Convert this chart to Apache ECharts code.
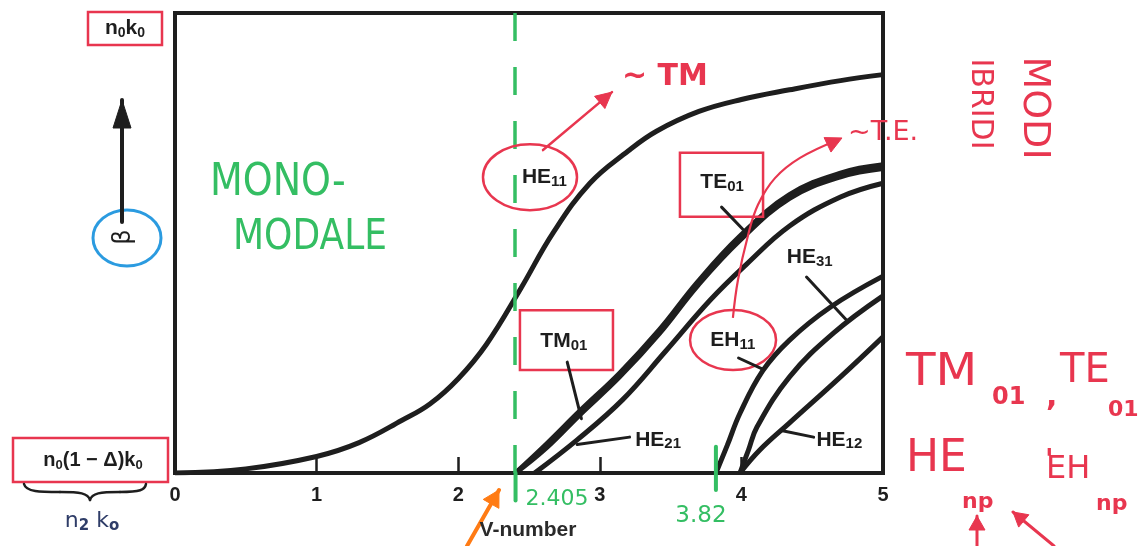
<!DOCTYPE html>
<html>
<head>
<meta charset="utf-8">
<script src="https://cdn.jsdelivr.net/npm/echarts@6/dist/echarts.min.js"></script>
<style>
  html, body { margin: 0; padding: 0; background: #ffffff; }
  #chart { width: 1144px; height: 546px; }
</style>
</head>
<body>
<div id="chart"></div>
<script>
// V-number axis ticks
const V_TICKS = [0, 1, 2, 3, 4, 5];

// Normalised propagation constant b (0 = n2k0, 1 = n1k0) versus V for each guided mode
const V_HE11 = [0, 0.5, 1.0, 1.3, 1.6, 1.8, 2.0, 2.2, 2.44, 2.67, 2.93, 3.2, 3.4, 3.7, 4.0, 4.34, 4.7, 5.0];
const B_HE11 = [0, 0.009, 0.036, 0.066, 0.114, 0.15, 0.205, 0.28, 0.40, 0.522, 0.63, 0.70, 0.743, 0.786, 0.812, 0.833, 0.853, 0.866];

const V_TE01 = [2.405, 2.62, 2.86, 3.14, 3.42, 3.69, 3.99, 4.34, 4.70, 5.0];
const B_TE01 = [0, 0.062, 0.135, 0.217, 0.311, 0.415, 0.515, 0.605, 0.652, 0.670];

const V_TM01 = [2.405, 2.62, 2.86, 3.14, 3.42, 3.69, 3.99, 4.34, 4.70, 5.0];
const B_TM01 = [0, 0.054, 0.127, 0.209, 0.303, 0.407, 0.506, 0.597, 0.644, 0.662];

const V_HE21 = [2.54, 2.84, 3.16, 3.46, 3.78, 4.03, 4.34, 4.70, 5.0];
const B_HE21 = [0, 0.072, 0.159, 0.263, 0.376, 0.452, 0.537, 0.600, 0.630];

const V_EH11 = [3.82, 3.9, 3.99, 4.15, 4.34, 4.63, 5.0];
const B_EH11 = [0, 0.06, 0.13, 0.222, 0.289, 0.361, 0.428];

const V_HE31 = [3.99, 4.05, 4.11, 4.34, 4.65, 5.0];
const B_HE31 = [0, 0.05, 0.10, 0.209, 0.304, 0.385];

const V_HE12 = [3.99, 4.13, 4.34, 4.70, 5.0];
const B_HE12 = [0, 0.05, 0.109, 0.209, 0.296];

// cut-off values written on the axis
const V_CUTOFF_1 = 2.405;
const V_CUTOFF_2 = 3.82;

const MODES = [
  { name: 'HE11', v: V_HE11, b: B_HE11 },
  { name: 'TE01', v: V_TE01, b: B_TE01 },
  { name: 'TM01', v: V_TM01, b: B_TM01 },
  { name: 'HE21', v: V_HE21, b: B_HE21 },
  { name: 'EH11', v: V_EH11, b: B_EH11 },
  { name: 'HE31', v: V_HE31, b: B_HE31 },
  { name: 'HE12', v: V_HE12, b: B_HE12 }
];

const INK = '#1e1e1e';
const RED = '#e8364f';
const GREEN = '#34be63';
const BLUE = '#2b9be0';
const ORANGE = '#ff7b14';
const NAVY = '#2f3d68';
const PRINT = 'Liberation Sans, Arial, sans-serif';
const HAND = 'DejaVu Sans, sans-serif';

const chart = echarts.init(document.getElementById('chart'), null, { renderer: 'canvas' });

const series = MODES.map((m, idx) => {
  const s = {
    type: 'line',
    name: m.name,
    data: m.v.map((v, i) => [v, m.b[i]]),
    smooth: 0.4,
    symbol: 'none',
    silent: true,
    animation: false,
    z: 3,
    lineStyle: { color: INK, width: 5 }
  };
  if (idx === 0) {
    s.markLine = {
      silent: true,
      animation: false,
      symbol: ['none', 'none'],
      label: { show: false },
      lineStyle: { color: GREEN, width: 3.5, type: [28, 26] },
      data: [{ xAxis: V_CUTOFF_1 }],
      z: 5
    };
  }
  return s;
});

chart.setOption({
  animation: false,
  backgroundColor: '#ffffff',
  grid: {
    left: 175, right: 261, top: 13, bottom: 73,
    show: true, borderColor: INK, borderWidth: 4,
    backgroundColor: 'transparent', containLabel: false
  },
  xAxis: {
    type: 'value', min: V_TICKS[0], max: V_TICKS[V_TICKS.length - 1], interval: 1,
    axisLine: { show: true, onZero: false, lineStyle: { color: INK, width: 4 } },
    axisTick: { show: true, inside: true, length: 16, lineStyle: { color: INK, width: 2.5 } },
    axisLabel: { color: INK, fontSize: 20, fontWeight: 'bold', fontFamily: PRINT, margin: 12 },
    splitLine: { show: false }
  },
  yAxis: {
    type: 'value', min: 0, max: 1,
    axisLine: { show: true, lineStyle: { color: INK, width: 4 } },
    axisTick: { show: false },
    axisLabel: { show: false },
    splitLine: { show: false }
  },
  series: series
});

function D(v, b) { return chart.convertToPixel({ gridIndex: 0 }, [v, b]); }

function arrowHead(x1, y1, x2, y2, len, half, color) {
  const a = Math.atan2(y2 - y1, x2 - x1);
  const c = Math.cos(a), s = Math.sin(a);
  return {
    type: 'polygon', silent: true, z: 20,
    shape: { points: [[x2, y2], [x2 - len * c + half * s, y2 - len * s - half * c], [x2 - len * c - half * s, y2 - len * s + half * c]] },
    style: { fill: color, stroke: color, lineWidth: 1 }
  };
}
function arrow(x1, y1, x2, y2, color, w, len, half) {
  return [
    { type: 'line', silent: true, z: 20, shape: { x1: x1, y1: y1, x2: x2, y2: y2 }, style: { stroke: color, lineWidth: w, lineCap: 'round' } },
    arrowHead(x1, y1, x2, y2, len, half, color)
  ];
}
function seg(p, q, color, w) {
  return { type: 'line', silent: true, z: 20, shape: { x1: p[0], y1: p[1], x2: q[0], y2: q[1] }, style: { stroke: color, lineWidth: w, lineCap: 'round' } };
}
function txt(x, y, text, size, color, opts) {
  const o = opts || {};
  return {
    type: 'text', silent: true, z: 25, x: x, y: y,
    rotation: o.rotation || 0, scaleX: o.scaleX || 1, scaleY: o.scaleY || 1,
    style: {
      text: text, fill: color, fontSize: size, fontFamily: o.family || HAND,
      fontWeight: o.weight || 'normal', align: o.align || 'left', verticalAlign: o.va || 'middle'
    }
  };
}
// printed mode name with a subscript index
function modeText(x, y, main, sub, color, size, subSize, family, weight) {
  return {
    type: 'text', silent: true, z: 25, x: x, y: y,
    style: {
      text: '{m|' + main + '}{s|' + sub + '}',
      align: 'left', verticalAlign: 'middle',
      rich: {
        m: { fill: color, fontSize: size, fontFamily: family, fontWeight: weight, lineHeight: size + 1, padding: [0, 0, 3, 0], verticalAlign: 'top' },
        s: { fill: color, fontSize: subSize, fontFamily: family, fontWeight: weight, lineHeight: subSize, verticalAlign: 'bottom' }
      }
    }
  };
}
function ellipse(cx, cy, rx, ry, color, w) {
  return { type: 'ellipse', silent: true, z: 18, shape: { cx: cx, cy: cy, rx: rx, ry: ry }, style: { fill: 'none', stroke: color, lineWidth: w } };
}
function box(p, q, color, w) {
  return { type: 'rect', silent: true, z: 18, shape: { x: p[0], y: p[1], width: q[0] - p[0], height: q[1] - p[1] }, style: { fill: 'none', stroke: color, lineWidth: w } };
}
function bez(p1, c1, c2, p2, color, w) {
  return { type: 'bezierCurve', silent: true, z: 18,
    shape: { x1: p1[0], y1: p1[1], cpx1: c1[0], cpy1: c1[1], cpx2: c2[0], cpy2: c2[1], x2: p2[0], y2: p2[1] },
    style: { fill: 'none', stroke: color, lineWidth: w, lineCap: 'round' } };
}

function build() {
  const g = [];

  // mode labels and leader lines (data units)
  const LABELS = [
    ['HE', '11', 2.45, 0.641], ['TE', '01', 3.71, 0.630], ['HE', '31', 4.32, 0.467],
    ['TM', '01', 2.58, 0.285], ['EH', '11', 3.78, 0.287], ['HE', '21', 3.25, 0.070],
    ['HE', '12', 4.53, 0.070]
  ];
  LABELS.forEach(l => {
    const p = D(l[2], l[3]);
    g.push(modeText(p[0], p[1], l[0], l[1], INK, 21, 15, PRINT, 'bold'));
  });
  const LEADERS = [
    [[3.86, 0.578], [4.01, 0.53]], [[2.77, 0.241], [2.87, 0.118]], [[3.21, 0.078], [2.84, 0.062]],
    [[3.98, 0.250], [4.15, 0.226]], [[4.46, 0.426], [4.75, 0.330]], [[4.51, 0.078], [4.29, 0.092]]
  ];
  LEADERS.forEach(l => g.push(seg(D(l[0][0], l[0][1]), D(l[1][0], l[1][1]), INK, 3)));

  // red marks on the plot
  let c = D(2.507, 0.643);
  g.push(ellipse(c[0], c[1], 47, 33, RED, 2.5));
  let a = D(2.599, 0.702), b = D(3.086, 0.828);
  g.push(...arrow(a[0], a[1], b[0], b[1], RED, 2.5, 16, 8));
  let t = D(3.157, 0.861);
  g.push(txt(t[0], t[1], '~ TM', 30, RED, { weight: 'bold' }));

  g.push(box(D(3.566, 0.696), D(4.153, 0.557), RED, 2.5));
  const PATH = [[3.94, 0.337], [3.976, 0.42], [4.047, 0.517], [4.117, 0.583], [4.237, 0.641], [4.414, 0.685], [4.682, 0.724]].map(q => D(q[0], q[1]));
  g.push({ type: 'polyline', silent: true, z: 18, shape: { points: PATH, smooth: 0.4 }, style: { fill: 'none', stroke: RED, lineWidth: 2.2 } });
  const pe = PATH[PATH.length - 1], pb = PATH[PATH.length - 2];
  g.push(arrowHead(pb[0], pb[1], pe[0] + 4, pe[1] - 2, 16, 8, RED));
  t = D(4.753, 0.739);
  g.push(txt(t[0], t[1], '~T.E.', 27, RED));

  c = D(3.941, 0.289);
  g.push(ellipse(c[0], c[1], 43, 30, RED, 2.5));
  g.push(box(D(2.436, 0.354), D(3.093, 0.224), RED, 2.5));

  // green single-mode region and cut-off marks
  t = D(0.247, 0.630);
  g.push(txt(t[0], t[1], 'MONO-', 38, GREEN, { scaleY: 1.15 }));
  t = D(0.41, 0.511);
  g.push(txt(t[0], t[1], 'MODALE', 36, GREEN, { scaleY: 1.2 }));
  g.push(seg(D(V_CUTOFF_1, 0), D(V_CUTOFF_1, -0.06), GREEN, 4));
  g.push(seg(D(V_CUTOFF_2, 0.057), D(V_CUTOFF_2, -0.037), GREEN, 4));
  t = D(V_CUTOFF_1, -0.06);
  g.push(txt(t[0] + 10, 499, '2.405', 22, GREEN));
  t = D(V_CUTOFF_2, -0.06);
  g.push(txt(t[0] - 15, 516, '3.82', 23, GREEN, { align: 'center' }));

  // axis name
  g.push(txt(528, 530, 'V-number', 21, '#2a2a2a', { family: PRINT, weight: 'bold', align: 'center' }));
  g.push(...arrow(467, 546, 499, 490, ORANGE, 4, 16, 9));

  // left margin: axis limits and beta arrow
  g.push(box([88, 12], [162, 45], RED, 2.5));
  g.push({
    type: 'text', silent: true, z: 25, x: 125, y: 29,
    style: { text: '{m|n}{s|0}{m|k}{s|0}', align: 'center', verticalAlign: 'middle',
      rich: { m: { fill: INK, fontSize: 21, fontFamily: PRINT, fontWeight: 'bold', lineHeight: 22, padding: [0, 0, 3, 0], verticalAlign: 'top' },
              s: { fill: INK, fontSize: 14, fontFamily: PRINT, fontWeight: 'bold', lineHeight: 14, verticalAlign: 'bottom' } } }
  });
  g.push(...arrow(122, 222, 122, 100, INK, 4, 28, 9));
  g.push(ellipse(127, 238, 34, 28, BLUE, 3));
  g.push(txt(124, 237, 'β', 24, INK, { align: 'center', rotation: Math.PI / 2 }));

  g.push(box([13, 438], [168, 482], RED, 2.5));
  g.push({
    type: 'text', silent: true, z: 25, x: 93, y: 461,
    style: { text: '{m|n}{s|0}{m|(1 − Δ)k}{s|0}', align: 'center', verticalAlign: 'middle',
      rich: { m: { fill: INK, fontSize: 20, fontFamily: PRINT, fontWeight: 'bold', lineHeight: 21, padding: [0, 0, 3, 0], verticalAlign: 'top' },
              s: { fill: INK, fontSize: 13, fontFamily: PRINT, fontWeight: 'bold', lineHeight: 13, verticalAlign: 'bottom' } } }
  });
  // brace under the lower limit
  g.push(bez([24, 484], [26, 492], [40, 492], [60, 492], INK, 2.5));
  g.push(bez([60, 492], [80, 492], [88, 493], [90, 500], INK, 2.5));
  g.push(bez([90, 500], [92, 493], [100, 492], [120, 492], INK, 2.5));
  g.push(bez([120, 492], [140, 492], [145, 490], [146, 484], INK, 2.5));
  g.push({
    type: 'text', silent: true, z: 25, x: 92, y: 522,
    style: { text: '{m|n}{s|2}{m| k}{s|o}', align: 'center', verticalAlign: 'middle',
      rich: { m: { fill: NAVY, fontSize: 22, fontFamily: HAND, lineHeight: 23, padding: [0, 0, 3, 0], verticalAlign: 'top' },
              s: { fill: NAVY, fontSize: 15, fontFamily: HAND, fontWeight: 'bold', lineHeight: 15, verticalAlign: 'bottom' } } }
  });

  // right margin: hybrid modes notes
  g.push(txt(1034, 108, 'MODI', 38, RED, { align: 'center', rotation: -Math.PI / 2 }));
  g.push(txt(980, 104, 'IBRIDI', 30, RED, { align: 'center', rotation: -Math.PI / 2 }));
  g.push(txt(906, 374, 'TM', 44, RED, { scaleX: 1.1 }));
  g.push(txt(992, 398, '01', 24, RED, { weight: 'bold' }));
  g.push(txt(1046, 398, ',', 30, RED, { weight: 'bold' }));
  g.push(txt(1060, 372, 'TE', 40, RED));
  g.push(txt(1108, 410, '01', 22, RED, { weight: 'bold' }));
  g.push(txt(906, 460, 'HE', 44, RED));
  g.push(txt(962, 502, 'np', 22, RED, { weight: 'bold' }));
  g.push(txt(1045, 462, '\'', 28, RED, { weight: 'bold' }));
  g.push(txt(1046, 470, 'EH', 32, RED));
  g.push(txt(1096, 504, 'np', 22, RED, { weight: 'bold' }));
  g.push(...arrow(977, 546, 977, 516, RED, 3, 14, 8));
  g.push(...arrow(1054, 546, 1013, 512, RED, 3, 14, 8));

  chart.setOption({ graphic: { elements: g } });
}
build();
</script>
</body>
</html>
